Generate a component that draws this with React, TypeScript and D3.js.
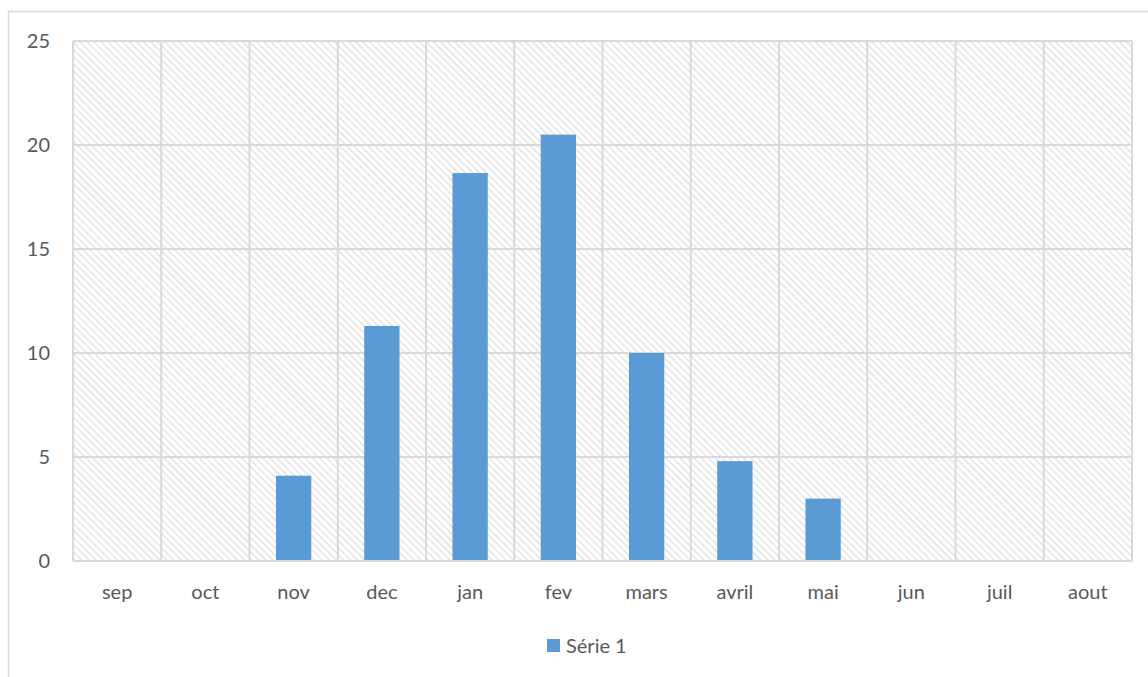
import * as d3 from "d3";
import { useEffect, useRef } from "react";

const months = ["sep", "oct", "nov", "dec", "jan", "fev", "mars", "avril", "mai", "jun", "juil", "aout"];
const serie1 = [0, 0, 4.1, 11.3, 18.65, 20.5, 10, 4.8, 3.0, 0, 0, 0];
const yTicks = [0, 5, 10, 15, 20, 25];
const seriesName = "Série 1";

const W = 1148;
const H = 677;
const FONT = "Lato, 'Open Sans', sans-serif";

const App = () => {
  const svgRef = useRef<SVGSVGElement | null>(null);

  const margin = { top: 41, right: 16, bottom: 116, left: 73 };
  const innerWidth = W - margin.left - margin.right;
  const innerHeight = H - margin.top - margin.bottom;

  useEffect(() => {
    const svg = d3.select(svgRef.current);
    svg.selectAll("*").remove();

    // hatch pattern for the plot background
    const defs = svg.append("defs");
    const pat = defs
      .append("pattern")
      .attr("id", "hatch")
      .attr("patternUnits", "userSpaceOnUse")
      .attr("width", 5)
      .attr("height", 5)
      .attr("patternTransform", "rotate(45)");
    pat.append("rect").attr("width", 5).attr("height", 5).attr("fill", "#fff");
    pat.append("line")
      .attr("x1", 0).attr("y1", 0).attr("x2", 5).attr("y2", 0)
      .attr("stroke", "#dedede").attr("stroke-width", 2.6);

    // outer chart frame (runs off the page right and bottom)
    svg.append("rect")
      .attr("x", 8.5).attr("y", 11.5)
      .attr("width", W + 20).attr("height", H + 20)
      .attr("fill", "#fff")
      .attr("stroke", "#d9d9d9")
      .attr("stroke-width", 1.5);

    const x = d3.scaleBand().domain(months).range([0, innerWidth]).paddingInner(0.6).paddingOuter(0.3);
    const xCell = d3.scaleBand().domain(months).range([0, innerWidth]);
    const y = d3.scaleLinear().domain([0, 25]).range([innerHeight, 0]);

    const g = svg.append("g").attr("transform", `translate(${margin.left},${margin.top})`);

    g.append("rect")
      .attr("width", innerWidth)
      .attr("height", innerHeight)
      .attr("fill", "url(#hatch)");

    // horizontal gridlines
    g.selectAll("line.hgrid")
      .data(yTicks)
      .enter()
      .append("line")
      .attr("class", "hgrid")
      .attr("x1", 0).attr("x2", innerWidth)
      .attr("y1", d => y(d)).attr("y2", d => y(d))
      .attr("stroke", "#d9d9d9").attr("stroke-width", 2);

    // vertical gridlines at category boundaries
    const bounds = months.map(m => xCell(m) ?? 0).concat([innerWidth]);
    g.selectAll("line.vgrid")
      .data(bounds)
      .enter()
      .append("line")
      .attr("class", "vgrid")
      .attr("y1", 0).attr("y2", innerHeight)
      .attr("x1", d => d).attr("x2", d => d)
      .attr("stroke", "#d9d9d9").attr("stroke-width", 2);

    // bars
    g.selectAll("rect.bar")
      .data(serie1.map((v, i) => ({ m: months[i], v })).filter(d => d.v > 0))
      .enter()
      .append("rect")
      .attr("class", "bar")
      .attr("x", d => x(d.m) ?? 0)
      .attr("width", x.bandwidth())
      .attr("y", d => y(d.v))
      .attr("height", d => innerHeight - y(d.v) - 1)
      .attr("fill", "#5b9bd5");

    // y labels
    g.selectAll("text.ytick")
      .data(yTicks)
      .enter()
      .append("text")
      .attr("class", "ytick")
      .attr("x", -23)
      .attr("y", d => y(d))
      .attr("dy", "0.35em")
      .attr("text-anchor", "end")
      .attr("font-family", FONT)
      .attr("font-size", 20)
      .attr("fill", "#595959")
      .text(d => d);

    // x labels
    g.selectAll("text.xtick")
      .data(months)
      .enter()
      .append("text")
      .attr("class", "xtick")
      .attr("x", d => (xCell(d) ?? 0) + xCell.bandwidth() / 2)
      .attr("y", innerHeight + 31)
      .attr("dy", "0.35em")
      .attr("text-anchor", "middle")
      .attr("font-family", FONT)
      .attr("font-size", 20)
      .attr("fill", "#595959")
      .text(d => d);

    // legend
    const lg = svg.append("g").attr("transform", "translate(547,639)");
    lg.append("rect").attr("width", 13).attr("height", 13).attr("fill", "#5b9bd5");
    lg.append("text")
      .attr("x", 19).attr("y", 6.5).attr("dy", "0.35em")
      .attr("font-family", FONT).attr("font-size", 20).attr("fill", "#595959")
      .text(seriesName);
  }, []);

  return (
    <svg
      ref={svgRef}
      width={W}
      height={H}
      style={{ position: "absolute", left: 0, top: 0, background: "#fff" }}
    ></svg>
  );
};

export default App;
